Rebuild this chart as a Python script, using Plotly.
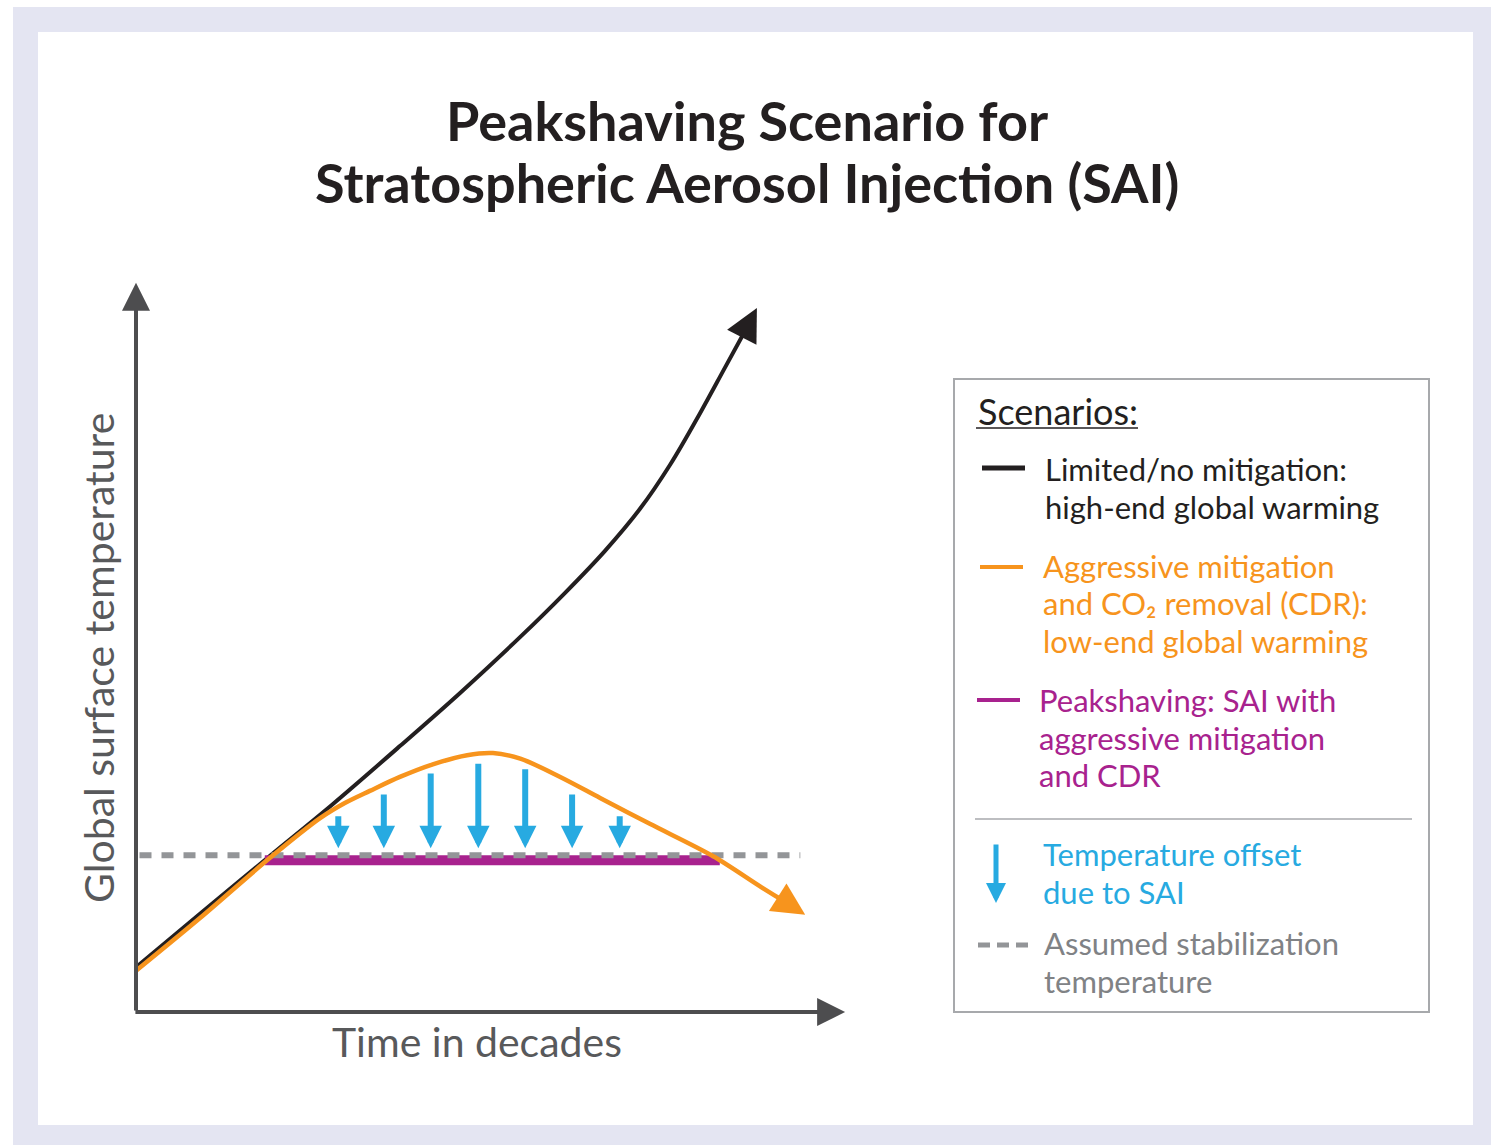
import plotly.graph_objects as go

# ---------------- data (time in "decade" units, temperature in arbitrary units) ----------------
black_time = [0.00, 0.91, 1.91, 2.81, 3.77, 4.63, 5.49, 6.13, 6.70, 7.20, 7.63, 8.06, 8.41, 8.70]
black_temp = [0.61, 1.37, 2.20, 2.94, 3.77, 4.53, 5.33, 5.96, 6.56, 7.16, 7.79, 8.53, 9.17, 9.70]
black_tip = (8.87, 10.03)

orange_time = [0.00, 0.91, 1.91, 2.63, 2.99, 3.34, 3.77, 4.24, 4.73, 5.10, 5.49, 6.06, 6.63, 7.34, 8.24, 8.91, 9.20]
orange_temp = [0.56, 1.31, 2.17, 2.74, 2.96, 3.13, 3.33, 3.51, 3.64, 3.67, 3.59, 3.33, 3.03, 2.66, 2.20, 1.77, 1.59]
orange_tip = (9.56, 1.36)

stab_time = [0.05, 9.49]
stab_temp = [2.21, 2.21]

peak_time = [1.84, 8.34]
peak_temp = [2.14, 2.14]

offset_time = [2.89, 3.54, 4.21, 4.89, 5.56, 6.23, 6.91]
offset_top = [2.79, 3.10, 3.40, 3.54, 3.46, 3.10, 2.79]
offset_bottom = [2.31, 2.31, 2.31, 2.31, 2.31, 2.31, 2.31]

x_axis_end = 10.13
y_axis_end = 10.39

title_lines = ["Peakshaving Scenario for", "Stratospheric Aerosol Injection (SAI)"]
x_label = "Time in decades"
y_label = "Global surface temperature"
legend_title = "Scenarios:"
legend_black = ["Limited/no mitigation:", "high-end global warming"]
legend_orange = ["Aggressive mitigation", "and CO₂ removal (CDR):", "low-end global warming"]
legend_magenta = ["Peakshaving: SAI with", "aggressive mitigation", "and CDR"]
legend_blue = ["Temperature offset", "due to SAI"]
legend_gray = ["Assumed stabilization", "temperature"]

# ---------------- styling ----------------
W, H = 1491, 1145
PXU = 70.0
OX, OY = 136, 1010
FONT = "Lato, 'Open Sans', sans-serif"
C_BLACK = "#231f20"
C_ORANGE = "#f7941d"
C_MAGENTA = "#a8228e"
C_BLUE = "#27aae1"
C_GRAY = "#939598"
C_AXIS = "#4d4d4f"
C_LAV = "#e4e5f2"


def px(x):
    return x / W


def py(y):
    return 1 - y / H


fig = go.Figure()

fig.add_trace(go.Scatter(x=black_time, y=black_temp, mode="lines",
                         line=dict(color=C_BLACK, width=4, shape="spline", smoothing=1.0), hoverinfo="skip"))
fig.add_trace(go.Scatter(x=peak_time, y=peak_temp, mode="lines",
                         line=dict(color=C_MAGENTA, width=10), hoverinfo="skip"))
fig.add_trace(go.Scatter(x=stab_time, y=stab_temp, mode="lines",
                         line=dict(color=C_GRAY, width=6, dash="12px,10px"), hoverinfo="skip"))
fig.add_trace(go.Scatter(x=orange_time, y=orange_temp, mode="lines",
                         line=dict(color=C_ORANGE, width=4.5, shape="spline", smoothing=0.9), hoverinfo="skip"))

annotations = []


def data_arrow(x0, y0, x1, y1, color, width, size, head):
    annotations.append(dict(x=x1, y=y1, ax=x0, ay=y0, xref="x", yref="y", axref="x", ayref="y",
                            text="", showarrow=True, arrowhead=head, arrowsize=size,
                            arrowwidth=width, arrowcolor=color, standoff=0))


# axes
data_arrow(0, -0.03, 0, y_axis_end, C_AXIS, 4, 1.4, 2)
data_arrow(-0.03, -0.03, x_axis_end, -0.03, C_AXIS, 4, 1.4, 2)
# curve heads
data_arrow(black_time[-1], black_temp[-1], black_tip[0], black_tip[1], C_BLACK, 4, 1.65, 2)
data_arrow(orange_time[-1], orange_temp[-1], orange_tip[0], orange_tip[1], C_ORANGE, 4.5, 1.45, 2)
# temperature offsets
for t, top, bot in zip(offset_time, offset_top, offset_bottom):
    data_arrow(t, top, t, bot, C_BLUE, 6, 0.75, 2)


def text(x, y, s, size, color, xanchor="left", bold=False, angle=0):
    annotations.append(dict(x=px(x), y=py(y), xref="paper", yref="paper", text=("<b>%s</b>" % s) if bold else s,
                            showarrow=False, xanchor=xanchor, yanchor="middle", textangle=angle,
                            font=dict(family=FONT, size=size, color=color)))


# title
text(747, 121, title_lines[0], 54, C_BLACK, "center", bold=True)
text(747, 182, title_lines[1], 54, C_BLACK, "center", bold=True)
# axis labels
text(477, 1041, x_label, 41, "#58595b", "center")
text(98, 658, y_label, 41, "#58595b", "center", angle=-90)

# legend text
LS = 31
LH = 37.5
text(976, 411, legend_title, 36, C_BLACK)
for i, s in enumerate(legend_black):
    text(1043, 469 + LH * i, s, LS, C_BLACK)
for i, s in enumerate(legend_orange):
    text(1041, 565.5 + LH * i, s, LS, C_ORANGE)
for i, s in enumerate(legend_magenta):
    text(1037, 700 + LH * i, s, LS, C_MAGENTA)
for i, s in enumerate(legend_blue):
    text(1041, 854 + LH * i, s, LS, C_BLUE)
for i, s in enumerate(legend_gray):
    text(1042, 943 + LH * i, s, LS, "#808285")

# legend blue arrow glyph
annotations.append(dict(x=px(996), y=py(903), xref="paper", yref="paper", ax=0, ay=-60,
                        axref="pixel", ayref="pixel", text="", showarrow=True, arrowhead=2,
                        arrowsize=0.8, arrowwidth=5, arrowcolor=C_BLUE, standoff=0))

shapes = [
    dict(type="rect", xref="paper", yref="paper", x0=px(13), x1=px(W), y0=py(7), y1=py(H),
         fillcolor=C_LAV, line=dict(width=0), layer="below"),
    dict(type="rect", xref="paper", yref="paper", x0=px(38), x1=px(1473), y0=py(32), y1=py(1125),
         fillcolor="white", line=dict(width=0), layer="below"),
    # legend box
    dict(type="rect", xref="paper", yref="paper", x0=px(954), x1=px(1429), y0=py(379), y1=py(1012),
         fillcolor="rgba(0,0,0,0)", line=dict(color="#a7a9ac", width=2)),
    # underline for Scenarios:
    dict(type="line", xref="paper", yref="paper", x0=px(976), x1=px(1138), y0=py(428), y1=py(428),
         line=dict(color=C_BLACK, width=1.5)),
    # separator
    dict(type="line", xref="paper", yref="paper", x0=px(975), x1=px(1412), y0=py(819), y1=py(819),
         line=dict(color="#a7a9ac", width=1.5)),
    # legend line glyphs
    dict(type="line", xref="paper", yref="paper", x0=px(982), x1=px(1025), y0=py(468), y1=py(468),
         line=dict(color=C_BLACK, width=5)),
    dict(type="line", xref="paper", yref="paper", x0=px(980), x1=px(1023), y0=py(567), y1=py(567),
         line=dict(color=C_ORANGE, width=4)),
    dict(type="line", xref="paper", yref="paper", x0=px(977), x1=px(1020), y0=py(700), y1=py(700),
         line=dict(color=C_MAGENTA, width=4)),
    dict(type="line", xref="paper", yref="paper", x0=px(978), x1=px(1030), y0=py(945), y1=py(945),
         line=dict(color=C_GRAY, width=5, dash="12px,7px")),
]

fig.update_layout(
    width=W, height=H, autosize=False,
    margin=dict(l=0, r=0, t=0, b=0, pad=0),
    paper_bgcolor="white", plot_bgcolor="rgba(0,0,0,0)",
    showlegend=False,
    xaxis=dict(range=[-OX / PXU, (W - OX) / PXU], domain=[0, 1], visible=False, fixedrange=True),
    yaxis=dict(range=[-(H - OY) / PXU, OY / PXU], domain=[0, 1], visible=False, fixedrange=True),
    annotations=annotations,
    shapes=shapes,
)

fig.write_html("out.html", config={"displayModeBar": False},
               post_script="document.body.style.margin='0';document.body.style.overflow='hidden';")
